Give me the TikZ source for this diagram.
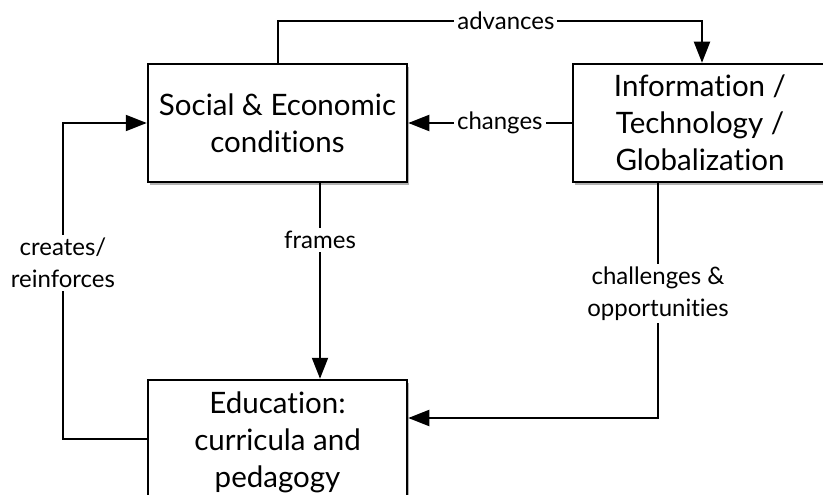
\documentclass[tikz,border=0pt]{standalone}
\usepackage{fontspec}
\setmainfont{Lato}[Ligatures=NoCommon]
\usetikzlibrary{arrows.meta,shadows}
\begin{document}
\begin{tikzpicture}[x=1pt,y=-1pt,
  box/.style={draw=black, line width=2.5pt, fill=white, align=center,
    font=\fontsize{29.5}{37}\selectfont, inner sep=0pt,
    drop shadow={shadow xshift=2pt, shadow yshift=-3pt, opacity=0.3, fill=black}},
  lab/.style={fill=white, align=center, inner sep=3pt,
    font=\fontsize{24}{32}\selectfont},
  conn/.style={line width=2pt, draw=black},
  arr/.style={conn, -{Triangle[length=21pt,width=16pt]}}]
\useasboundingbox (0,0) rectangle (823,495);
\begin{scope}
\clip (0,0) rectangle (823,495);
\node[box, minimum width=259pt, minimum height=118pt] (A) at (277.5,123) {Social \& Economic\\conditions};
\node[box, minimum width=254pt, minimum height=118pt] (B) at (700,123) {Information /\\Technology /\\Globalization};
\node[box, minimum width=259pt, minimum height=124pt] (C) at (277.5,442) {Education:\\curricula and\\pedagogy};
\end{scope}
% advances
\draw[arr] (A.north) -- (A.north |- 0,21) -- node[lab, pos=0.538] (la) {advances} ([xshift=2pt]B.north |- 0,21) -- ([xshift=2pt]B.north);
% changes
\draw[arr] (B.west) -- node[lab, pos=0.44] (lc) {changes} (A.east);
% frames
\draw[arr] ([xshift=42.5pt]A.south) -- node[lab, pos=0.29] (lf) {frames} ([xshift=42.5pt]C.north);
% challenges
\draw[arr] ([xshift=-42pt]B.south) -- node[lab, pos=0.47] (lo) {challenges \&\\opportunities} ([xshift=-42pt]B.south |- 0,418) -- (C.east |- 0,418);
% creates
\draw[arr] (C.west |- 0,439) -- (63,439) -- node[lab, pos=0.557] (lr) {creates/\\reinforces} (63,123) -- (A.west);
\end{tikzpicture}
\end{document}
